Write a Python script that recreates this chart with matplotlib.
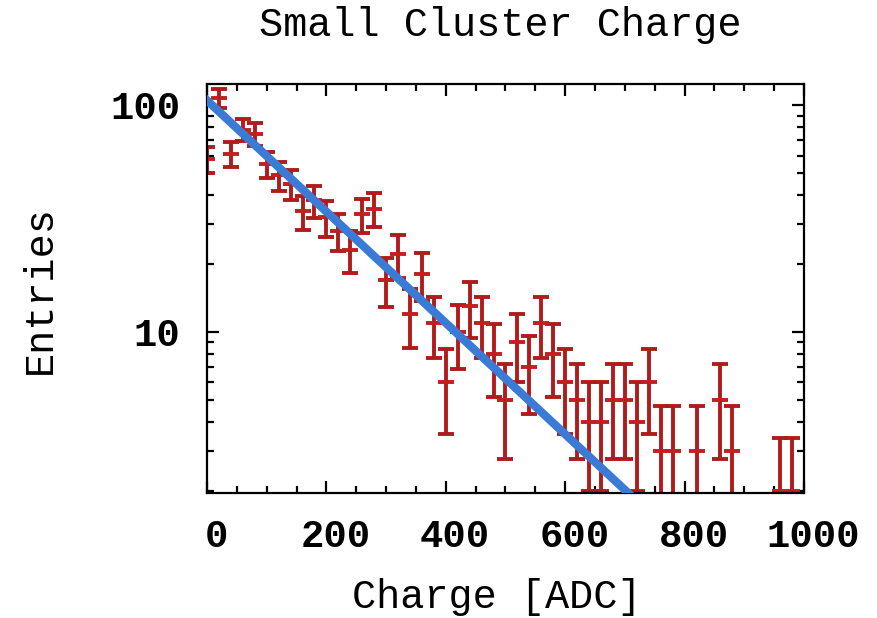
import numpy as np
import matplotlib
matplotlib.use("Agg")
import matplotlib.pyplot as plt
import matplotlib.transforms as mtransforms
from matplotlib.ticker import MultipleLocator, LogLocator, NullFormatter

# histogram: bin centres [ADC] and entries per bin
charge = np.arange(0, 1000, 20)
entries = np.array([
    58, 108, 61, 78, 75, 55, 49, 45, 34, 38,
    32, 28, 23, 33, 35, 17, 22, 12, 18, 11,
    6, 10, 13, 11, 8, 5, 9, 7, 11, 8,
    6, 5, 4, 4, 5, 5, 4, 6, 3, 3,
    0, 3, 0, 5, 3, 0, 0, 0, 2, 2,
])
errors = np.sqrt(entries)

# exponential fit
fit_norm = 105.0
fit_tau = 177.0

fig = plt.figure(figsize=(8.78, 6.18), dpi=100)
ax = fig.add_axes([207/878, 1-493/618, (804-207)/878, (493-84)/618])

filled = entries > 0
ax.errorbar(charge[filled], entries[filled], yerr=errors[filled], fmt='_',
            color='#c41e1e', ecolor='#b01c1c', ms=11, mew=2.8,
            elinewidth=2.8, capsize=6, capthick=2.8, zorder=2)

fit_x = np.linspace(-5, 1000, 300)
ax.plot(fit_x, fit_norm*np.exp(-fit_x/fit_tau), color='#3a7bd5', lw=6,
        solid_capstyle='butt', zorder=3)

ax.set_yscale('log')
ax.set_xlim(0, 1000)
ax.set_ylim(1.95, 124)

ax.xaxis.set_major_locator(MultipleLocator(200))
ax.xaxis.set_minor_locator(MultipleLocator(50))
ax.set_yticks([10, 100], ['10', '100'])
ax.yaxis.set_minor_locator(LogLocator(base=10, subs=np.arange(2, 10)))
ax.yaxis.set_minor_formatter(NullFormatter())

ax.tick_params(which='both', direction='in', top=True, right=True, width=1.6)
ax.tick_params(which='major', length=8.5)
ax.tick_params(which='minor', length=5)
ax.tick_params(axis='x', pad=19)
ax.tick_params(axis='y', pad=19)
for s in ax.spines.values():
    s.set_linewidth(1.6)

tick_font = dict(family='Liberation Mono', size=28, weight='bold')
for lab in ax.get_xticklabels() + ax.get_yticklabels():
    lab.set(**tick_font)
# x labels sit a little right of their ticks
shift = mtransforms.ScaledTranslation(9/100, 0, fig.dpi_scale_trans)
for lab in ax.get_xticklabels():
    lab.set_transform(lab.get_transform() + shift)

label_font = dict(family='Liberation Mono', size=29)
fig.text(500/878, 1-36/618, 'Small Cluster Charge', ha='center', va='baseline', **label_font)
fig.text(497/878, 1-608/618, 'Charge [ADC]', ha='center', va='baseline', **label_font)
fig.text(40/878, 1-290/618, 'Entries', ha='center', va='center', rotation=90, **label_font)

fig.savefig('out.png', dpi=100)
